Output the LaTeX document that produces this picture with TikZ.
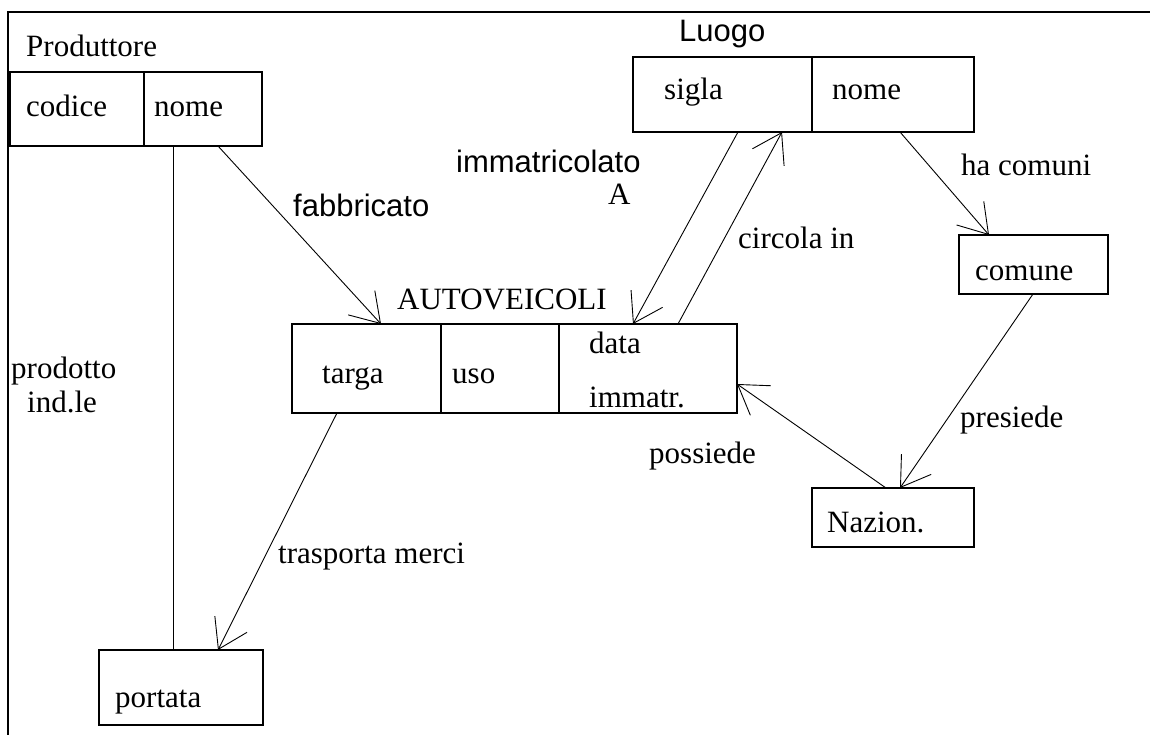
\documentclass[tikz,border=0pt]{standalone}
\usepackage{fontspec}
\setmainfont{Liberation Serif}
\newfontfamily\arialfont{Liberation Sans}
\usetikzlibrary{arrows.meta}
\begin{document}
\begin{tikzpicture}[x=1pt,y=-1pt,
  cell/.style={draw, line width=1.1pt, anchor=north west, inner sep=0pt, outer sep=0pt},
  txt/.style={inner sep=0pt, anchor=base west, font=\fontsize{31}{36}\selectfont},
  stxt/.style={txt, font=\arialfont\fontsize{31}{36}\selectfont},
  link/.style={line width=0.9pt},
  arr/.style={link, -{Straight Barb[length=28pt,width=36pt]}}]
\useasboundingbox (0,0) rectangle (1150,735);
% frame
\draw[line width=2pt] (1150,12) -- (7.5,12) -- (7.5,735);

% Produttore
\node[cell, minimum width=134pt, minimum height=74pt] (pcod) at (10,72) {};
\node[cell, minimum width=118pt, minimum height=74pt] (pnom) at (144,72) {};
% Luogo
\node[cell, minimum width=179pt, minimum height=75pt] (lsig) at (633,57) {};
\node[cell, minimum width=162pt, minimum height=75pt] (lnom) at (812,57) {};
% AUTOVEICOLI
\node[cell, minimum width=149pt, minimum height=89pt] (targa) at (292,324) {};
\node[cell, minimum width=118pt, minimum height=89pt] (uso) at (441,324) {};
\node[cell, minimum width=178pt, minimum height=89pt] (data) at (559,324) {};
% single-field tables
\node[cell, minimum width=149pt, minimum height=59pt] (comune) at (959,235) {};
\node[cell, minimum width=162pt, minimum height=59pt] (naz) at (812,488) {};
\node[cell, minimum width=164pt, minimum height=75pt] (portata) at (99,650) {};

% texts
\node[txt] (tprod) at (26,57) {Produttore};
\node[txt] (tcod) at (26,117) {codice};
\node[txt] (tpnom) at (154,117) {nome};
\node[stxt] (tluogo) at (679,42) {Luogo};
\node[txt] (tsig) at (664,100) {sigla};
\node[txt] (tlnom) at (832,100) {nome};
\node[stxt] (timm) at (456,173) {immatricolato};
\node[txt] (tA) at (608,205) {A};
\node[stxt] (tfab) at (293,217) {fabbricato};
\node[txt] (tauto) at (397,309) {AUTOVEICOLI};
\node[txt] (ttarga) at (322,383) {targa};
\node[txt] (tuso) at (452,383) {uso};
\node[txt] (tdata) at (589,353) {data};
\node[txt] (timmatr) at (589,407) {immatr.};
\node[txt] (tcirc) at (738,248) {circola in};
\node[txt] (thac) at (961,176) {ha comuni};
\node[txt] (tcom) at (975,280) {comune};
\node[txt] (tpres) at (960,427) {presiede};
\node[txt] (tnaz) at (827,532) {Nazion.};
\node[txt] (tposs) at (649,463) {possiede};
\node[txt] (ttrasp) at (278,563) {trasporta merci};
\node[txt] (tport) at (115,707) {portata};
\node[txt] (tprodotto) at (11,378) {prodotto};
\node[txt] (tindle) at (27,412) {ind.le};

% connectors
\draw[arr] ([xshift=74pt]pnom.south west) -- ([xshift=89pt]targa.north west);
\draw[link] ([xshift=29pt]pnom.south west) -- ([xshift=74pt]portata.north west);
\draw[arr] ([xshift=45pt]targa.south west) -- ([xshift=119pt]portata.north west);
\draw[arr] ([xshift=105pt]lsig.south west) -- ([xshift=74pt]data.north west);
\draw[arr] ([xshift=119pt]data.north west) -- ([xshift=149pt]lsig.south west);
\draw[arr] ([xshift=88pt]lnom.south west) -- ([xshift=30pt]comune.north west);
\draw[arr] ([xshift=74pt]comune.south west) -- ([xshift=88pt]naz.north west);
\draw[arr] ([xshift=74pt]naz.north west) -- ([yshift=29pt]data.south east);
\end{tikzpicture}
\end{document}
